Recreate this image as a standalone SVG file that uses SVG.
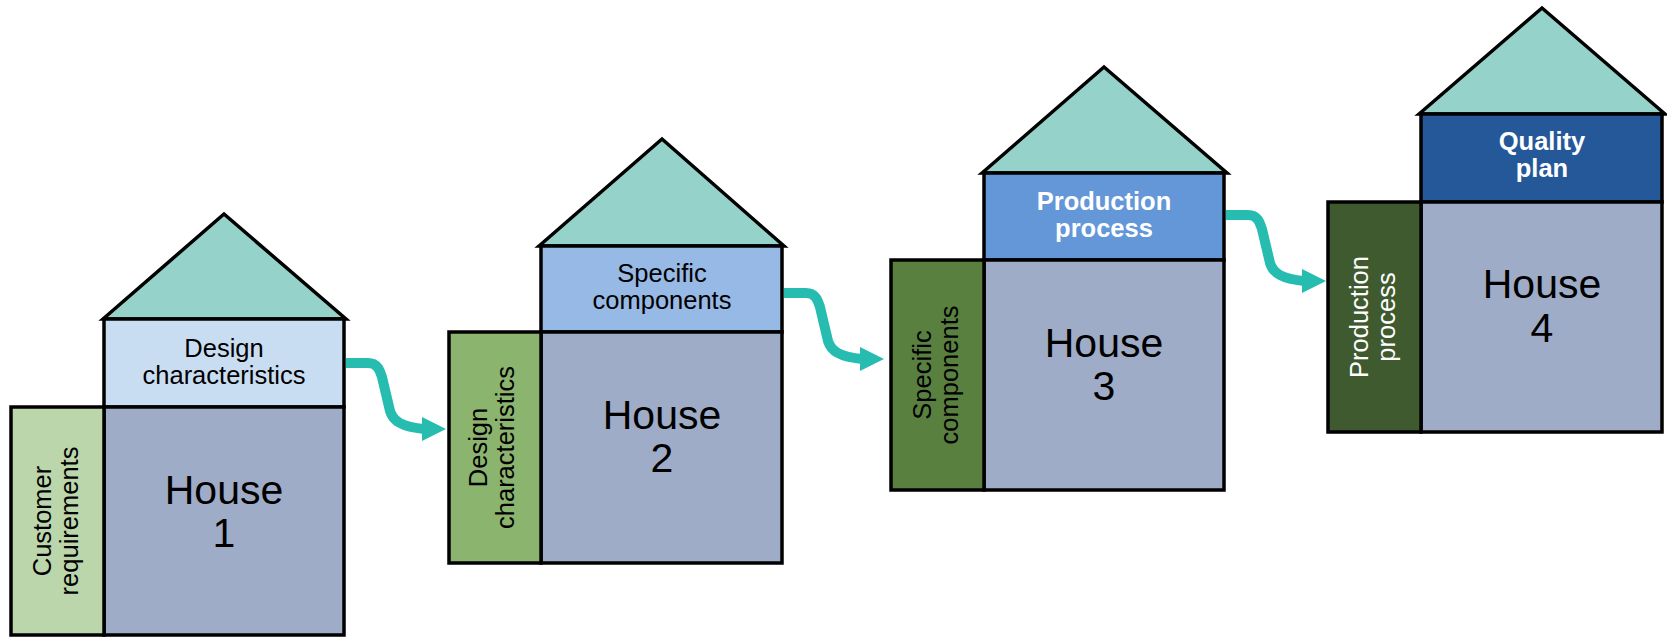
<svg xmlns="http://www.w3.org/2000/svg" xmlns:xlink="http://www.w3.org/1999/xlink" width="1667" height="637" viewBox="0 0 1667 637">
<style>
.roof{fill:#95D3CA;stroke:#000;stroke-width:3.5;stroke-linejoin:miter}
.box{stroke:#000;stroke-width:3.5}
.main{fill:#9FACC7}
.t{font-family:"Liberation Sans",Arial,sans-serif;font-size:25.5px;text-anchor:middle;fill:#000}
.tb{font-weight:bold;fill:#fff}
.w{fill:#fff}
.h{font-family:"Liberation Sans",Arial,sans-serif;font-size:41px;text-anchor:middle;fill:#000}
</style>
<defs>
<g id="arr">
<path d="M0,0 H22 C32,0 34,8 36,14 L44,48 C47,58 56,64 78,66" fill="none" stroke="#26BDB0" stroke-width="10"/>
<polygon points="76,54 100,66 76,78" fill="#26BDB0"/>
</g>
</defs>
<rect width="1667" height="637" fill="#fff"/>
<g id="connectors">
<use xlink:href="#arr" transform="translate(346,363)"/>
<use xlink:href="#arr" transform="translate(784,293)"/>
<use xlink:href="#arr" transform="translate(1226,215)"/>
</g>
<g id="house1">
<polygon class="roof" points="103,319 224,214 346,319"/>
<rect class="box" x="104" y="319" width="240" height="88" fill="#C9DDF2"/>
<rect class="box main" x="104" y="407" width="240" height="228"/>
<rect class="box" x="11" y="407" width="93" height="228" fill="#BCD6AC"/>
<text class="t" x="224" y="357">Design</text>
<text class="t" x="224" y="384">characteristics</text>
<text class="h" x="224" y="504">House</text>
<text class="h" x="224" y="547">1</text>
<g transform="translate(57.5,521) rotate(-90)">
<text class="t" x="0" y="-7">Customer</text>
<text class="t" x="0" y="20">requirements</text>
</g>
</g>
<g id="house2">
<polygon class="roof" points="539,246 662,139 784,246"/>
<rect class="box" x="541" y="246" width="241" height="86" fill="#97B9E5"/>
<rect class="box main" x="541" y="332" width="241" height="231"/>
<rect class="box" x="449" y="332" width="92" height="231" fill="#8BB46E"/>
<text class="t" x="662" y="282">Specific</text>
<text class="t" x="662" y="309">components</text>
<text class="h" x="662" y="429">House</text>
<text class="h" x="662" y="472">2</text>
<g transform="translate(495,447.5) rotate(-90)">
<text class="t" x="0" y="-8">Design</text>
<text class="t" x="0" y="19">characteristics</text>
</g>
</g>
<g id="house3">
<polygon class="roof" points="982,173 1104,67 1227,173"/>
<rect class="box" x="984" y="173" width="240" height="87" fill="#6497D8"/>
<rect class="box main" x="984" y="260" width="240" height="230"/>
<rect class="box" x="891" y="260" width="93" height="230" fill="#5A8040"/>
<text class="t tb" x="1104" y="210">Production</text>
<text class="t tb" x="1104" y="237">process</text>
<text class="h" x="1104" y="357">House</text>
<text class="h" x="1104" y="400">3</text>
<g transform="translate(937.5,375) rotate(-90)">
<text class="t" x="0" y="-7">Specific</text>
<text class="t" x="0" y="20">components</text>
</g>
</g>
<g id="house4">
<polygon class="roof" points="1419,114 1542,8 1665,114"/>
<rect class="box" x="1421" y="114" width="241" height="88" fill="#255898"/>
<rect class="box main" x="1421" y="202" width="241" height="230"/>
<rect class="box" x="1328" y="202" width="93" height="230" fill="#3F5A2E"/>
<text class="t tb" x="1542" y="150">Quality</text>
<text class="t tb" x="1542" y="177">plan</text>
<text class="h" x="1542" y="298">House</text>
<text class="h" x="1542" y="342">4</text>
<g transform="translate(1374.5,317) rotate(-90)">
<text class="t w" x="0" y="-7">Production</text>
<text class="t w" x="0" y="20">process</text>
</g>
</g>
</svg>
